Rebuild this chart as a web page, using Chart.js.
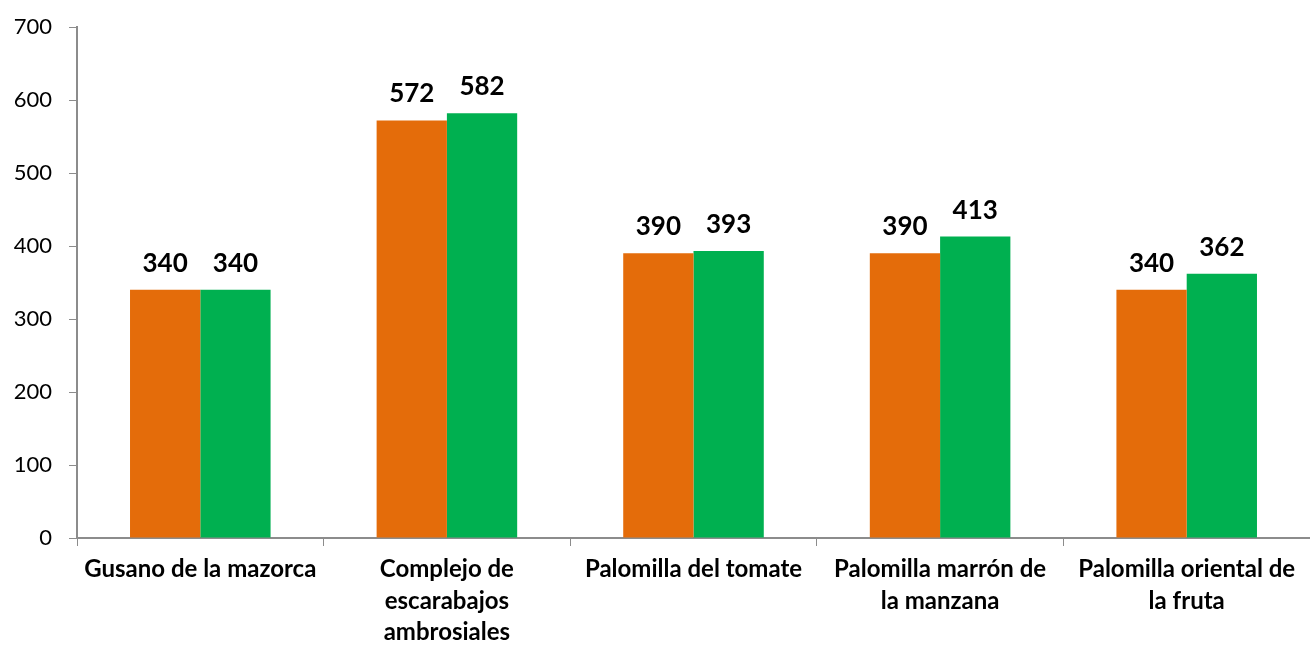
<!DOCTYPE html>
<html>
<head>
<meta charset="utf-8">
<script src="https://cdn.jsdelivr.net/npm/chart.js@4"></script>
<style>
  html, body { margin: 0; padding: 0; background: #fff; }
  #wrap { width: 1310px; height: 646px; }
</style>
</head>
<body>
<div id="wrap"><canvas id="chart" width="1310" height="646"></canvas></div>
<script>
const categories = [
    'Gusano de la mazorca',
    ['Complejo de', 'escarabajos', 'ambrosiales'],
    'Palomilla del tomate',
    ['Palomilla marrón de', 'la manzana'],
    ['Palomilla oriental de', 'la fruta']
];
const serieA = [340, 572, 390, 390, 340];
const serieB = [340, 582, 393, 413, 362];
const yTicks = [0, 100, 200, 300, 400, 500, 600, 700];

// etiquetas de valor encima de cada barra
const valueLabels = {
    id: 'valueLabels',
    afterDatasetsDraw(chart) {
        const ctx = chart.ctx;
        ctx.save();
        ctx.font = 'bold 26px Lato';
        ctx.fillStyle = '#000';
        ctx.textAlign = 'center';
        ctx.textBaseline = 'alphabetic';
        chart.data.datasets.forEach((ds, i) => {
            chart.getDatasetMeta(i).data.forEach((bar, j) => {
                ctx.fillText(ds.data[j], bar.x, bar.y - 18);
            });
        });
        ctx.restore();
    }
};

const ctx = document.getElementById('chart').getContext('2d');
new Chart(ctx, {
    type: 'bar',
    data: {
        labels: categories,
        datasets: [{
            data: serieA,
            backgroundColor: '#E46C0A',
            borderWidth: 0
        }, {
            data: serieB,
            backgroundColor: '#00B050',
            borderWidth: 0
        }]
    },
    options: {
        responsive: false,
        animation: false,
        layout: { padding: { top: 27, right: 0, left: 0, bottom: 0 } },
        plugins: {
            legend: { display: false },
            tooltip: { enabled: false }
        },
        datasets: {
            bar: { categoryPercentage: 0.57, barPercentage: 1.0 }
        },
        scales: {
            x: {
                afterFit(scale) { scale.height = 108; },
                grid: {
                    drawOnChartArea: false,
                    tickLength: 8,
                    color: '#8c8c8c',
                    offset: true
                },
                border: { color: '#8c8c8c', width: 2 },
                ticks: {
                    color: '#000',
                    padding: 8,
                    maxRotation: 0,
                    autoSkip: false,
                    font: { family: 'Lato', size: 24, weight: 'bold', lineHeight: 1.3 }
                }
            },
            y: {
                min: 0,
                max: 700,
                afterFit(scale) {
                    scale.width = 77;
                    // el padding de las etiquetas no debe empujar el área del gráfico
                    scale.paddingTop = 0;
                    scale.paddingBottom = 0;
                },
                afterBuildTicks(scale) { scale.ticks = yTicks.map(v => ({ value: v })); },
                grid: {
                    drawOnChartArea: false,
                    tickLength: 8,
                    color: '#8c8c8c'
                },
                border: { color: '#8c8c8c', width: 2 },
                ticks: {
                    color: '#000',
                    padding: 17,
                    font: { family: 'Lato', size: 22 }
                }
            }
        }
    },
    plugins: [valueLabels]
});
</script>
</body>
</html>
